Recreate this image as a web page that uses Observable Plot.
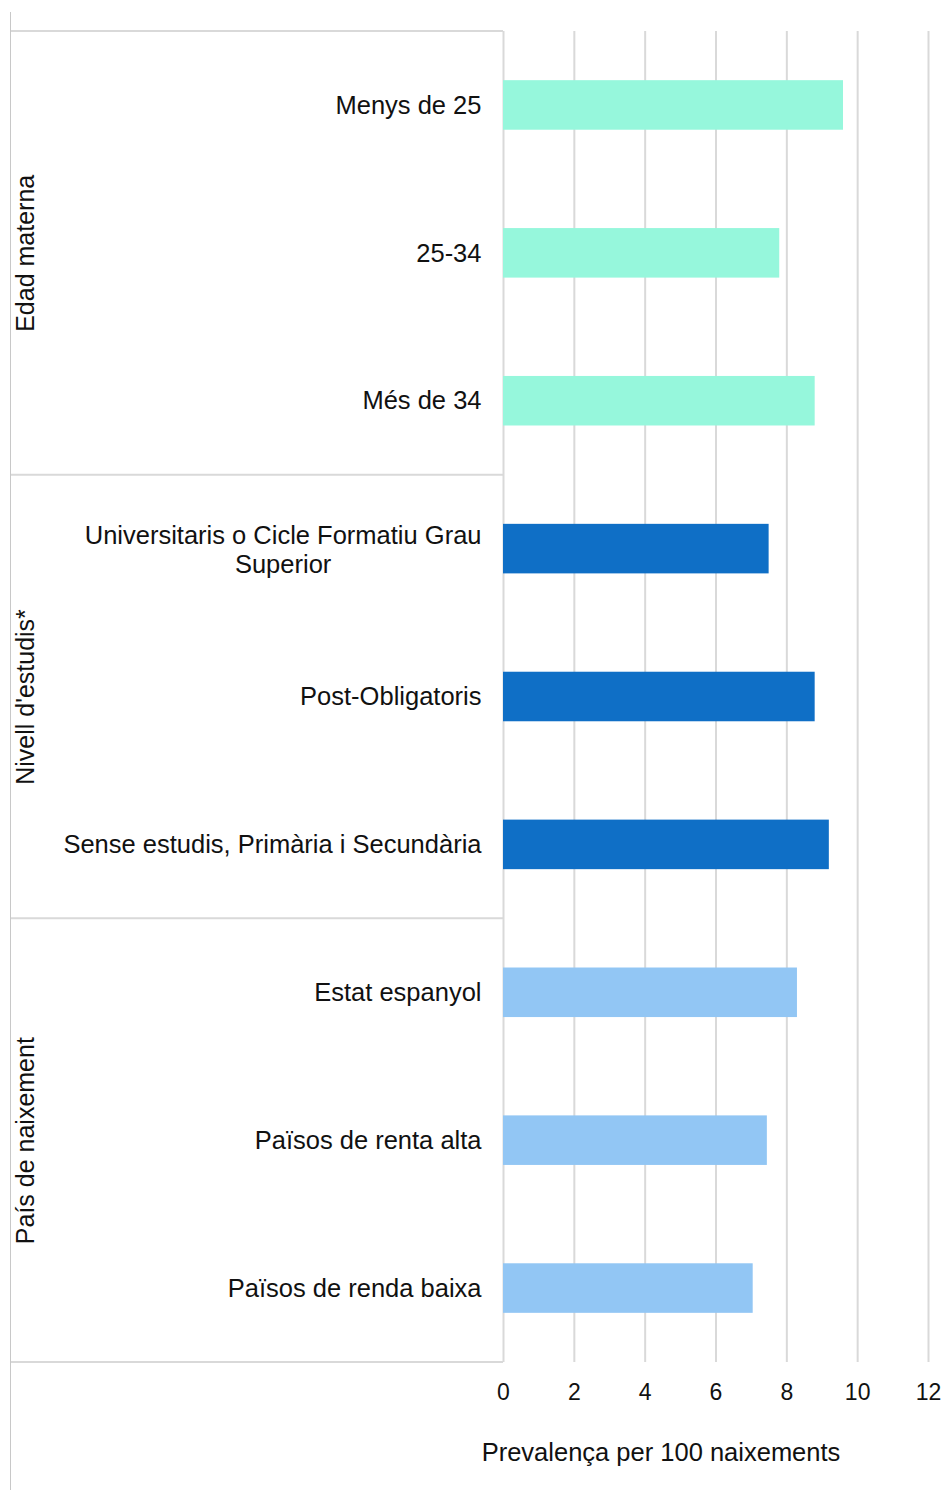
<!DOCTYPE html>
<html>
<head>
<meta charset="utf-8">
<script src="https://cdn.jsdelivr.net/npm/d3@7"></script>
<script src="https://cdn.jsdelivr.net/npm/@observablehq/plot@0.6"></script>
<style>
  html, body { margin: 0; padding: 0; background: #fff; }
</style>
</head>
<body>
<div id="chart"></div>
<script>
// ---------- data ----------
const groups = ["Edad materna", "Nivell d'estudis*", "País de naixement"];
const categories = [
  "Menys de 25",
  "25-34",
  "Més de 34",
  "Universitaris o Cicle Formatiu Grau\nSuperior",
  "Post-Obligatoris",
  "Sense estudis, Primària i Secundària",
  "Estat espanyol",
  "Països de renta alta",
  "Països de renda baixa"
];
const groupIndex = [0, 0, 0, 1, 1, 1, 2, 2, 2];
const values = [9.6, 7.8, 8.8, 7.5, 8.8, 9.2, 8.3, 7.45, 7.05];
const groupColors = ["#96F7DC", "#0F6FC6", "#92C6F4"];
const xTicks = [0, 2, 4, 6, 8, 10, 12];
const xLabel = "Prevalença per 100 naixements";

// ---------- build ----------
const rows = categories.map((c, i) => ({category: c, value: values[i], group: groups[groupIndex[i]]}));
const singleRows = rows.filter(d => !d.category.includes("\n"));
const multiRows = rows.filter(d => d.category.includes("\n"));
const groupMid = groups.map((g, gi) => ({group: g, category: categories[groupIndex.indexOf(gi) + 1]}));

const FONT = '"Liberation Sans", Arial, Helvetica, sans-serif';
const LABEL_SIZE = 25.5;
const GROUP_SIZE = 25;
const TICK_SIZE = 23;
const LABEL_GAP = 22;

const ctx = document.createElement("canvas").getContext("2d");
ctx.font = `${LABEL_SIZE}px ${FONT}`;
const multiWidth = d3.max(multiRows.flatMap(d => d.category.split("\n")), s => ctx.measureText(s).width) || 0;

const W = 945, H = 1490;
const chart = Plot.plot({
  width: W,
  height: H,
  marginLeft: 503,
  marginRight: 17,
  marginTop: 31,
  marginBottom: 128,
  style: {fontFamily: FONT, fontSize: LABEL_SIZE + "px", color: "#111", background: "#fff"},
  x: {domain: [0, 12]},
  y: {domain: categories, paddingInner: 0.665, paddingOuter: 0.3325, round: false, axis: null},
  color: {domain: groups, range: groupColors},
  marks: [
    Plot.ruleX(xTicks.filter(d => d > 0), {stroke: "#d9d9d9", strokeWidth: 2}),
    Plot.ruleX([0], {stroke: "#d9d9d9", strokeWidth: 2}),
    Plot.barX(rows, {y: "category", x: "value", fill: "group"}),
    Plot.axisX({ticks: xTicks, tickSize: 0, tickPadding: 21, fontSize: TICK_SIZE, label: null, tickFormat: d => String(d)}),
    // category labels
    Plot.text(singleRows, {y: "category", text: "category", frameAnchor: "left", textAnchor: "end", dx: -LABEL_GAP, fontSize: LABEL_SIZE, fill: "#111"}),
    Plot.text(multiRows, {y: "category", text: "category", frameAnchor: "left", textAnchor: "middle", dx: -LABEL_GAP - multiWidth / 2, lineHeight: 1.15, fontSize: LABEL_SIZE, fill: "#111"}),
    // group labels (rotated)
    Plot.text(groupMid, {y: "category", text: "group", frameAnchor: "left", rotate: -90, textAnchor: "middle", lineAnchor: "middle", dx: 25 - 503, fontSize: GROUP_SIZE, fill: "#111"}),
    // x axis title
    Plot.text([xLabel], {text: d => d, frameAnchor: "bottom", dx: -55, dy: 90, lineAnchor: "middle", fontSize: LABEL_SIZE, fill: "#111"})
  ]
});

// ---------- group box lines, positioned from the plot's scales ----------
const ys = chart.scale("y"), xs = chart.scale("x");
const pad = (ys.step - ys.bandwidth) / 2;
const bounds = groups.map((g, gi) => ys.apply(categories[groupIndex.indexOf(gi)]) - pad);
bounds.push(ys.apply(categories[categories.length - 1]) + ys.bandwidth + pad);
const x0 = xs.apply(0);
const svg = d3.select(chart);
const g = svg.append("g");
g.selectAll("line.sep").data(bounds).join("line")
  .attr("class", "sep")
  .attr("x1", 10).attr("x2", x0)
  .attr("y1", d => d).attr("y2", d => d)
  .attr("stroke", "#d9d9d9").attr("stroke-width", 2);
g.append("line")
  .attr("x1", 10.5).attr("x2", 10.5).attr("y1", 12).attr("y2", H)
  .attr("stroke", "#c8c8c8").attr("stroke-width", 1);

document.getElementById("chart").appendChild(chart);
</script>
</body>
</html>
